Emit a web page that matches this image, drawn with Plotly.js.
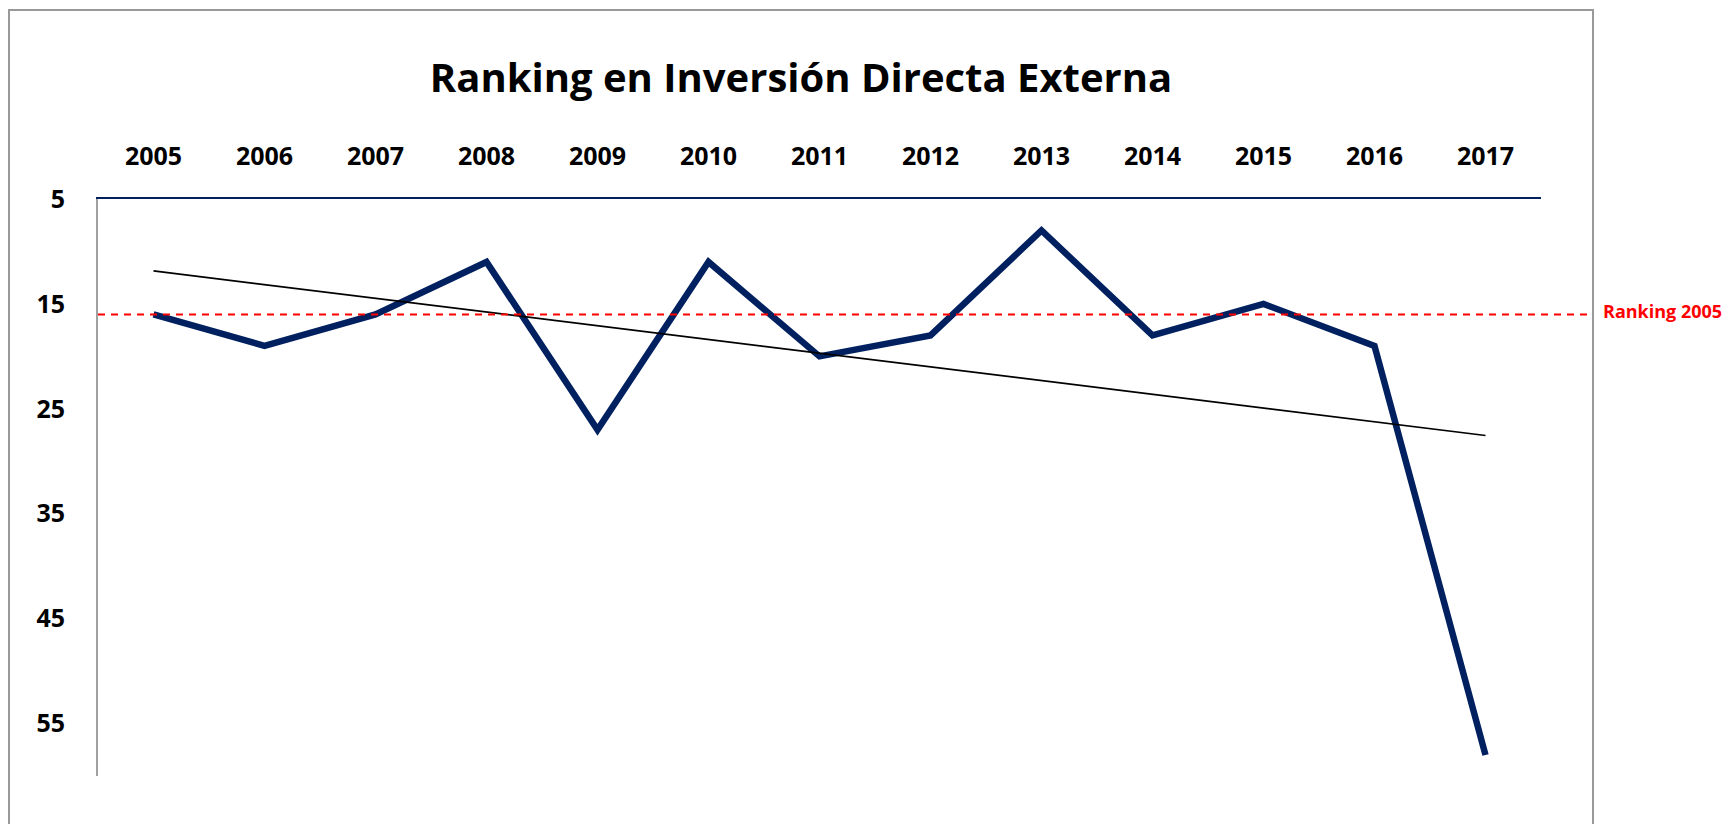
<!DOCTYPE html>
<html>
<head>
<meta charset="utf-8">
<script src="https://cdn.plot.ly/plotly-3.0.1.min.js"></script>
<style>
  html, body { margin: 0; padding: 0; background: #fff; }
  #chart { width: 1723px; height: 824px; }
</style>
</head>
<body>
<div id="chart"></div>
<script>
// years on the (top) category axis
const years = ['2005', '2006', '2007', '2008', '2009', '2010', '2011', '2012', '2013', '2014', '2015', '2016', '2017'];
// ranking (lower is better, axis is reversed)
const ranking = [16, 19, 16, 11, 27, 11, 20, 18, 8, 18, 15, 19, 58];

// linear trend line as drawn in the original: value at first and last year
const trendYears = ['2005', '2017'];
const trendValues = [11.85, 27.54];

// reference level: the 2005 ranking
const refValue = 16;
const refLabel = 'Ranking 2005';

const yTicks = [5, 15, 25, 35, 45, 55];

const navy = '#002060';
const font = 'Open Sans, Lato, sans-serif';

// plot area in pixels: x 98..1541, y 199..776
const plotLeft = 98, plotRight = 1541, plotTop = 199, plotBottom = 776;
const pw = plotRight - plotLeft, ph = plotBottom - plotTop;
const px = v => (v - plotLeft) / pw;
const py = v => (plotBottom - v) / ph;

const data = [{
    x: years,
    y: ranking,
    type: 'scatter',
    mode: 'lines',
    line: {color: navy, width: 6.5},
    hoverinfo: 'skip'
}, {
    x: trendYears,
    y: trendValues,
    type: 'scatter',
    mode: 'lines',
    line: {color: '#000000', width: 1.7},
    hoverinfo: 'skip'
}];

const layout = {
    width: 1723,
    height: 824,
    margin: {l: plotLeft, r: 1723 - plotRight, t: plotTop, b: 824 - plotBottom},
    paper_bgcolor: '#ffffff',
    plot_bgcolor: '#ffffff',
    showlegend: false,
    title: {
        text: 'Ranking en Inversión Directa Externa',
        font: {family: font, size: 40, color: '#000000', weight: 'bold'},
        xref: 'container',
        x: 801 / 1723,
        xanchor: 'center',
        yref: 'container',
        y: 1 - 78 / 824,
        yanchor: 'middle'
    },
    xaxis: {
        type: 'category',
        categoryorder: 'array',
        categoryarray: years,
        side: 'top',
        range: [-0.5, 12.5],
        showgrid: false,
        zeroline: false,
        showline: true,
        linecolor: navy,
        linewidth: 2,
        ticks: '',
        ticklabelstandoff: 22,
        tickfont: {family: font, size: 25, color: '#000000', weight: 'bold'}
    },
    yaxis: {
        range: [60, 5],
        tickvals: yTicks,
        showgrid: false,
        zeroline: false,
        showline: true,
        linecolor: '#a0a0a0',
        linewidth: 2,
        ticks: '',
        ticklabelstandoff: 26,
        tickfont: {family: font, size: 25, color: '#000000', weight: 'bold'}
    },
    shapes: [{
        // outer chart border
        type: 'rect',
        xref: 'paper', yref: 'paper',
        x0: px(9), x1: px(1593),
        y0: py(840), y1: py(10),
        line: {color: '#999999', width: 2},
        fillcolor: 'rgba(0,0,0,0)'
    }, {
        type: 'line',
        xref: 'paper', yref: 'y',
        x0: 0, x1: px(1592),
        y0: refValue, y1: refValue,
        line: {color: '#ff0000', width: 2, dash: '7px,6px'}
    }],
    annotations: [{
        text: refLabel,
        xref: 'paper', yref: 'y',
        x: px(1601), y: refValue,
        xanchor: 'left', yanchor: 'middle',
        yshift: 3,
        showarrow: false,
        font: {family: font, size: 18, color: '#ff0000', weight: 'bold'}
    }]
};

Plotly.newPlot('chart', data, layout, {displayModeBar: false, staticPlot: true});
</script>
</body>
</html>
